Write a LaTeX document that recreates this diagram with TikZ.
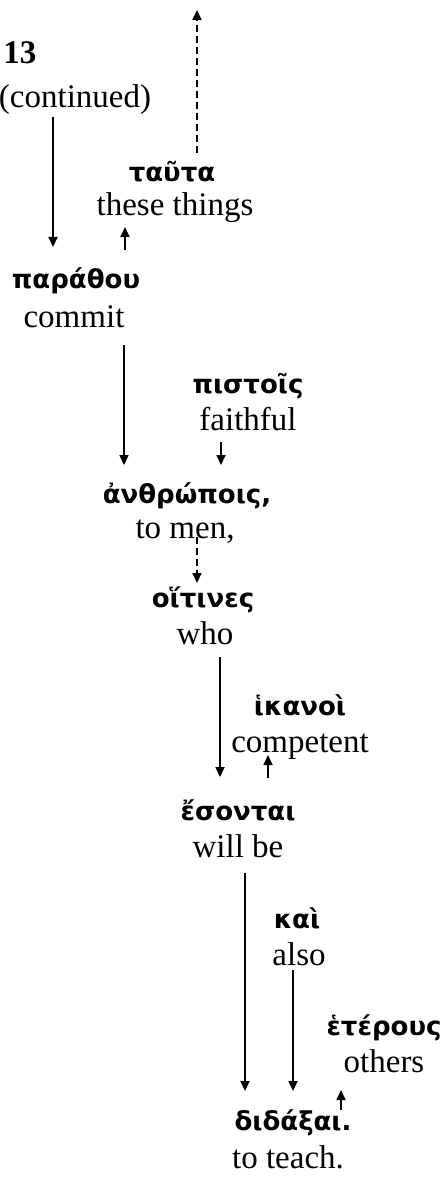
\documentclass[tikz,border=0pt]{standalone}
\usepackage{fontspec}
\setmainfont{Liberation Serif}
\newfontfamily\grk{DejaVu Sans}
\usetikzlibrary{arrows.meta,calc}
\begin{document}
\begin{tikzpicture}[x=0.5pt,y=-0.5pt,
  en/.style={inner sep=0pt,anchor=base,font=\fontsize{16.5}{19}\selectfont},
  gk/.style={inner sep=0pt,anchor=base,font=\grk\bfseries\fontsize{13}{15}\selectfont},
  arr/.style={line width=0.85pt,-{Triangle[length=5pt,width=4.5pt]}},
  darr/.style={arr,dash pattern=on 3.5pt off 2pt}]
\useasboundingbox (0,0) rectangle (447,1182);

% heading
\node[en,anchor=base west,font=\fontsize{16.5}{19}\selectfont\bfseries] (num) at (3,64) {13};
\node[en] (cont) at (75,108) {(continued)};

% words, Greek above English gloss
\node[gk] (tauta) at (172,182) {ταῦτα};
\node[en] (these) at (175,216) {these things};
\node[gk] (parath) at (76,288) {παράθου};
\node[en] (commit) at (74,327) {commit};
\node[gk] (pistois) at (248,393) {πιστοῖς};
\node[en] (faith) at (248,430) {faithful};
\node[gk] (anthr) at (187,503) {ἀνθρώποις,};
\node[en] (tomen) at (185,538) {to men,};
\node[gk] (hoit) at (203,607) {οἵτινες};
\node[en] (who) at (205,644) {who};
\node[gk] (hikan) at (300,715) {ἱκανοὶ};
\node[en] (compet) at (300,752) {competent};
\node[gk] (eson) at (238,820) {ἔσονται};
\node[en] (willbe) at (238,857) {will be};
\node[gk] (kai) at (297,928) {καὶ};
\node[en] (also) at (299,965) {also};
\node[gk] (heter) at (384,1035) {ἑτέρους};
\node[en] (others) at (384,1072) {others};
\node[gk] (didax) at (293,1130) {διδάξαι.};
\node[en] (teach) at (288,1168) {to teach.};

% connectors
\coordinate (up) at ($(tauta.base)+(25,-172)$);
\draw[darr] ($(tauta.base)+(25,-29)$) -- (up);
\draw[arr] ($(cont.base)+(-22,9)$) -- ($(parath.base)+(-23,-41)$);
\draw[arr] ($(parath.base)+(49,-38)$) -- ($(these.base)+(-50,11)$);
\draw[arr] ($(commit.base)+(50,18)$) -- ($(anthr.base)+(-63,-38)$);
\draw[arr] ($(faith.base)+(-27,12)$) -- ($(anthr.base)+(34,-38)$);
\draw[darr] ($(tomen.base)+(12,-1)$) -- ($(hoit.base)+(-6,-24)$);
\draw[arr] ($(who.base)+(15,13)$) -- ($(eson.base)+(-18,-43)$);
\draw[arr] ($(eson.base)+(30,-42)$) -- ($(compet.base)+(-32,3)$);
\draw[arr] ($(willbe.base)+(7,16)$) -- ($(didax.base)+(-48,-39)$);
\draw[arr] ($(also.base)+(-6,5)$) -- ($(didax.base)+(0,-39)$);
\draw[arr] ($(didax.base)+(48,-20)$) -- ($(others.base)+(-43,18)$);
\end{tikzpicture}
\end{document}
